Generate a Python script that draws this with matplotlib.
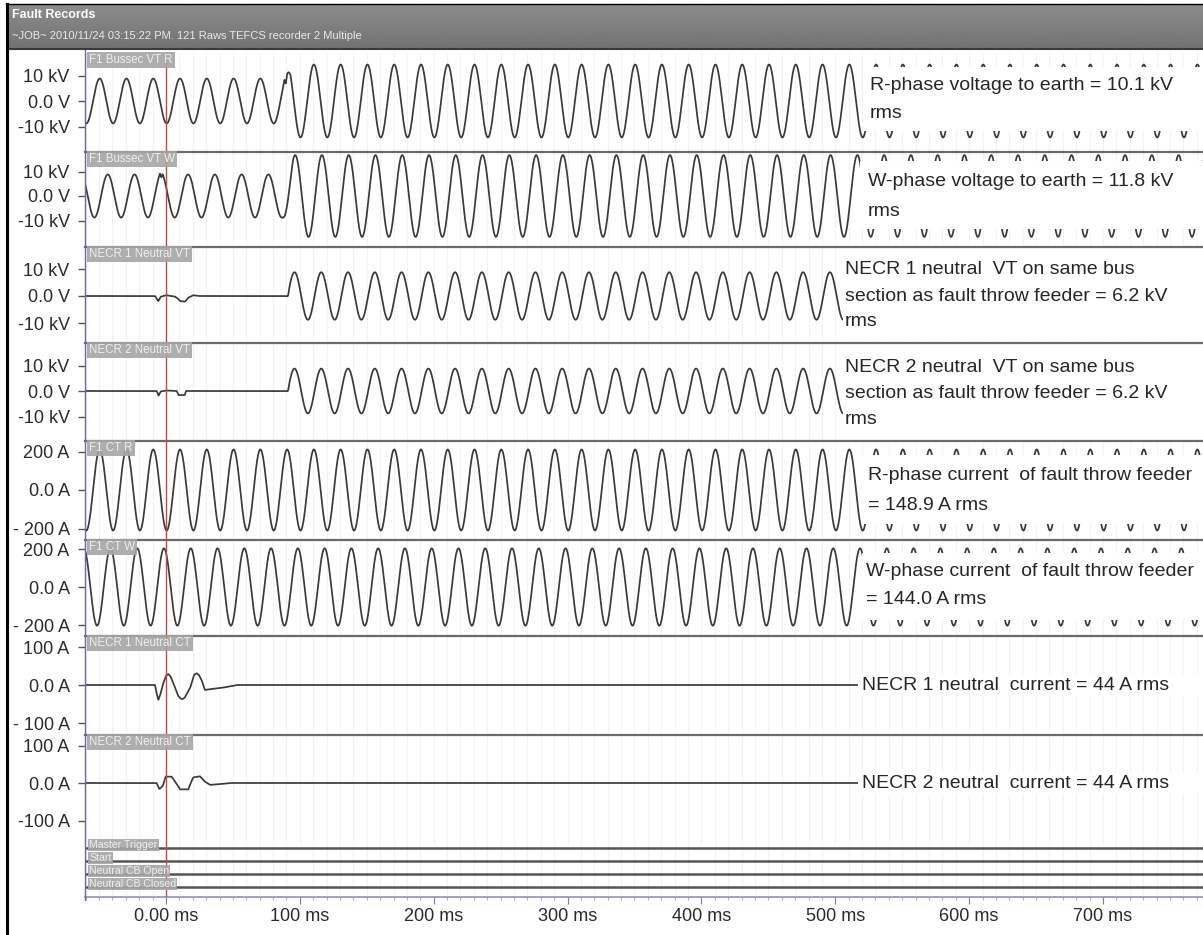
import numpy as np
import matplotlib
matplotlib.use("Agg")
import matplotlib.pyplot as plt
from matplotlib.patches import Rectangle
from matplotlib.lines import Line2D

plt.rcParams['font.family'] = ['Liberation Sans', 'DejaVu Sans']

# ---- recorder data ----
FREQ_HZ = 50.0

# analog channels: amplitude envelope (time ms, peak value) and time of a positive peak (ms)
VR_ENV_T = [-61, 90, 93, 776]
VR_ENV_KV = [8.8, 8.8, 14.3, 14.3]
VR_PEAK_MS = 10.5
VR_GLITCH_T = [87.0, 88.5, 89.5, 90.5, 92.0]
VR_GLITCH_KV = [0.0, 1.2, -1.5, 0.8, 0.0]

VW_ENV_T = [-61, 87, 95, 776]
VW_ENV_KV = [8.8, 8.8, 16.7, 16.7]
VW_PEAK_MS = -3.5
VW_GLITCH_T = [-6.0, -4.5, -3.5, -2.5, -1.0]
VW_GLITCH_KV = [0.0, 0.8, -1.2, 0.5, 0.0]

NVT_ENV_T = [-61, 90.5, 92, 776]
NVT_ENV_KV = [0.0, 0.0, 8.8, 8.8]
NVT_PEAK_MS = 96.0
NVT1_T = [-61, -8.2, -5.7, -4.0, 0.0, 6.7, 9.0, 10.5, 14.2, 16.7, 20.4, 24.2, 776]
NVT1_KV = [0, 0, -1.9, -0.3, 0.3, -0.2, -1.0, -1.9, -2.1, -0.6, 0.3, 0, 0]
NVT2_T = [-61, -7.0, -5.5, -4.0, 0.0, 8.0, 9.5, 14.0, 15.0, 17.0, 776]
NVT2_KV = [0, 0, -1.8, -0.2, 0.2, 0, -1.6, -1.6, 0, 0, 0]

IR_ENV_T = [-61, 776]
IR_ENV_A = [210.6, 210.6]
IR_PEAK_MS = 10.5
IW_ENV_T = [-61, 776]
IW_ENV_A = [203.6, 203.6]
IW_PEAK_MS = -1.5

NCT1_T = [-61, -8.2, -7, -5.7, -4.5, -2.0, 0, 1.7, 3.5, 5.5, 9, 11, 12.4, 14, 18, 21,
          22.9, 24.5, 26.6, 29, 35, 42.6, 50, 52.8, 776]
NCT1_A = [0, 0, -22, -39, -28, 5, 24, 29, 22, 5, -28, -36, -37, -33, -8, 27,
          31, 27, 13, -13, -10, -7, -2, 0, 0]
NCT2_T = [-61, -7, -5, -3.5, -2.2, -0.3, 4.2, 6, 8, 10.5, 16.7, 18.5, 20.4, 25.4,
          27, 29, 32.9, 40.3, 47.8, 776]
NCT2_A = [0, 0, -16, -12, -6, 17, 17, 8, -3, -17, -17, 0, 15, 18, 12, 4, -5, -3, 0, 0]

CHANNEL_NAMES = ["F1 Bussec VT R", "F1 Bussec VT W", "NECR 1 Neutral VT", "NECR 2 Neutral VT",
                 "F1 CT R", "F1 CT W", "NECR 1 Neutral CT", "NECR 2 Neutral CT"]
TICK_VALUES = [10, 10, 10, 10, 200, 200, 100, 100]
TICK_LABELS = [["-10 kV", "0.0 V", "10 kV"]] * 4 + \
              [["- 200 A", "0.0 A", "200 A"]] * 2 + \
              [["- 100 A", "0.0 A", "100 A"], ["-100 A", "0.0 A", "100 A"]]

DIGITAL_NAMES = ["Master Trigger", "Start", "Neutral CB Open", "Neutral CB Closed"]
DIGITAL_STATE = [0, 0, 0, 0]

X_TICKS_MS = [0, 100, 200, 300, 400, 500, 600, 700]
X_TICK_LABELS = ["0.00 ms", "100 ms", "200 ms", "300 ms", "400 ms", "500 ms", "600 ms", "700 ms"]

ANNOTATIONS = [
    ["R-phase voltage to earth = 10.1 kV", "rms"],
    ["W-phase voltage to earth = 11.8 kV", "rms"],
    ["NECR 1 neutral  VT on same bus", "section as fault throw feeder = 6.2 kV", "rms"],
    ["NECR 2 neutral  VT on same bus", "section as fault throw feeder = 6.2 kV", "rms"],
    ["R-phase current  of fault throw feeder", "= 148.9 A rms"],
    ["W-phase current  of fault throw feeder", "= 144.0 A rms"],
    ["NECR 1 neutral  current = 44 A rms"],
    ["NECR 2 neutral  current = 44 A rms"],
]

TITLE = "Fault Records"
SUBTITLE = "~JOB~ 2010/11/24 03:15:22 PM. 121 Raws TEFCS recorder 2 Multiple"

# ---- layout (pixels of the 1203x935 screenshot) ----
W_PX, H_PX = 1203, 935
AX_LEFT = 85
T_MIN, T_MAX = -60.5, 774.7
PANEL_TOP = [53, 152, 247, 343, 441, 540, 636, 735]
PANEL_BOT = [152, 247, 343, 441, 540, 636, 735, 845]
ZERO_PX = [101, 196, 296, 391, 490, 587, 685, 783]
TICK_PX = [25.5, 24.5, 27, 25.5, 38.5, 38, 38, 37.5]
BOX_PX = [(864, 67, 131), (860, 161, 229), (843, 249, 341), (843, 345, 439),
          (862, 455, 524), (862, 553, 620), (858, 674, 696), (858, 772, 794)]
ANNOT_X = [870, 868, 845, 845, 868, 866, 862, 862]
ANNOT_Y = [[85, 113], [182, 211], [270, 296, 322], [367, 393, 419],
           [475, 505], [571, 599], [685], [783]]
DIG_TOP, DIG_BOT = 845, 897
DIG_LINE_PX = [848, 861, 874, 887]

TRACE = "#3a3a3a"
RED = "#c84848"


def fx(x):
    return x / W_PX


def fy(y):
    return 1 - y / H_PX


t = np.linspace(T_MIN, T_MAX, 12000)
omega = 2 * np.pi * FREQ_HZ / 1000.0


def wave(env_t, env_a, peak_ms):
    return np.interp(t, env_t, env_a) * np.cos(omega * (t - peak_ms))


signals = [
    wave(VR_ENV_T, VR_ENV_KV, VR_PEAK_MS) + np.interp(t, VR_GLITCH_T, VR_GLITCH_KV, left=0, right=0),
    wave(VW_ENV_T, VW_ENV_KV, VW_PEAK_MS) + np.interp(t, VW_GLITCH_T, VW_GLITCH_KV, left=0, right=0),
    wave(NVT_ENV_T, NVT_ENV_KV, NVT_PEAK_MS) + np.interp(t, NVT1_T, NVT1_KV),
    wave(NVT_ENV_T, NVT_ENV_KV, NVT_PEAK_MS) + np.interp(t, NVT2_T, NVT2_KV),
    wave(IR_ENV_T, IR_ENV_A, IR_PEAK_MS),
    wave(IW_ENV_T, IW_ENV_A, IW_PEAK_MS),
    np.interp(t, NCT1_T, NCT1_A),
    np.interp(t, NCT2_T, NCT2_A),
]

fig = plt.figure(figsize=(W_PX / 100, H_PX / 100), dpi=100)
fig.patch.set_facecolor("white")

grid_ms = np.arange(-60, 775, 10)

for i in range(8):
    top, bot, y0 = PANEL_TOP[i], PANEL_BOT[i], ZERO_PX[i]
    px_per_unit = TICK_PX[i] / TICK_VALUES[i]
    ax = fig.add_axes([fx(AX_LEFT), fy(bot), 1 - fx(AX_LEFT), (bot - top) / H_PX])
    ax.set_xlim(T_MIN, T_MAX)
    ax.set_ylim(-(bot - y0) / px_per_unit, (y0 - top) / px_per_unit)
    ax.patch.set_alpha(0)
    for sp in ax.spines.values():
        sp.set_visible(False)
    ax.set_xticks([])
    ax.set_xticks(grid_ms, minor=True)
    ax.grid(which="minor", axis="x", color="#f3f3f3", lw=0.8)
    ax.tick_params(axis="x", which="both", length=0, labelbottom=False)
    v = TICK_VALUES[i]
    ax.set_yticks([-v, 0, v])
    ax.set_yticklabels(TICK_LABELS[i])
    ax.tick_params(axis="y", direction="out", length=5, width=1, color="#555555",
                   labelsize=13, labelcolor="#2b2b2b", pad=6)
    ax.plot(t, signals[i], color=TRACE, lw=1.25)
    ax.axvline(0, color=RED, lw=1.0, zorder=5)

    # white box behind the note on the right
    x0, yb0, yb1 = BOX_PX[i]
    fig.add_artist(Rectangle((fx(x0), fy(yb1)), 1 - fx(x0), (yb1 - yb0) / H_PX,
                             transform=fig.transFigure, facecolor="white",
                             edgecolor="none", zorder=2))
    for line, ypix in zip(ANNOTATIONS[i], ANNOT_Y[i]):
        fig.text(fx(ANNOT_X[i]), fy(ypix), line, fontsize=14, color="#262626",
                 ha="left", va="center", zorder=3)

    # channel name tag
    fig.text(fx(89), fy(top + 7), CHANNEL_NAMES[i], fontsize=8.3, color="#eeeeee",
             ha="left", va="center", zorder=4,
             bbox=dict(boxstyle="square,pad=0.2", facecolor="#a5a5a5",
                       edgecolor="none", alpha=0.9))

    # separator below panel
    if i < 7:
        fig.add_artist(Line2D([fx(AX_LEFT), 1], [fy(bot), fy(bot)], color="#6b6b6b",
                              lw=1.6, transform=fig.transFigure, zorder=2.5))

# digital channels + time axis
axd = fig.add_axes([fx(AX_LEFT), fy(DIG_BOT), 1 - fx(AX_LEFT), (DIG_BOT - DIG_TOP) / H_PX])
axd.set_xlim(T_MIN, T_MAX)
axd.set_ylim(DIG_BOT, DIG_TOP)
axd.patch.set_alpha(0)
for name, ypix, state in zip(DIGITAL_NAMES, DIG_LINE_PX, DIGITAL_STATE):
    axd.plot([T_MIN, T_MAX], [ypix - 6 * state, ypix - 6 * state], color="#555555", lw=1.8)
    fig.text(fx(89), fy(ypix - 3), name, fontsize=7.6, color="#eeeeee", ha="left",
             va="center", zorder=4,
             bbox=dict(boxstyle="square,pad=0.12", facecolor="#a5a5a5",
                       edgecolor="none", alpha=0.9))
axd.axvline(0, color=RED, lw=1.0, zorder=5)
for side in ["top", "left", "right"]:
    axd.spines[side].set_visible(False)
axd.spines["bottom"].set_color("#9090c0")
axd.spines["bottom"].set_linewidth(1.2)
axd.set_yticks([])
axd.set_xticks(X_TICKS_MS)
axd.set_xticklabels(X_TICK_LABELS)
axd.set_xticks(grid_ms, minor=True)
axd.grid(which="minor", axis="x", color="#f3f3f3", lw=0.8)
axd.tick_params(axis="x", which="major", direction="out", length=5, color="#7a7aa8",
                labelsize=13, labelcolor="#2b2b2b", pad=3)
axd.tick_params(axis="x", which="minor", direction="out", length=2.5, color="#9a9ac0")

# left axis line
fig.add_artist(Line2D([fx(AX_LEFT), fx(AX_LEFT)], [fy(50), fy(DIG_BOT + 3)], color="#6a6aa8",
                      lw=1.0, transform=fig.transFigure, zorder=2.5))

# header band
axh = fig.add_axes([fx(8), fy(48), 1 - fx(8), 43 / H_PX])
grad = np.linspace(0.55, 0.45, 50).reshape(-1, 1)
axh.imshow(grad, aspect="auto", cmap="gray", vmin=0, vmax=1, extent=[0, 1, 0, 1])
axh.set_axis_off()
fig.add_artist(Line2D([fx(8), 1], [fy(48.5), fy(48.5)], color="#3a3a3a", lw=1.5,
                      transform=fig.transFigure, zorder=3))
fig.text(fx(12), fy(15), TITLE, fontsize=9, fontweight="bold", color="white",
         ha="left", va="center", zorder=4)
fig.text(fx(12), fy(36), SUBTITLE, fontsize=8, color="#eaeaea", ha="left",
         va="center", zorder=4)

# window frame
fig.add_artist(Line2D([fx(6.5), fx(6.5)], [0, fy(4)], color="black", lw=2.2,
                      transform=fig.transFigure, zorder=5))
fig.add_artist(Line2D([fx(6), 1], [fy(4), fy(4)], color="black", lw=1.0,
                      transform=fig.transFigure, zorder=5))

fig.savefig("out.png", dpi=100)
